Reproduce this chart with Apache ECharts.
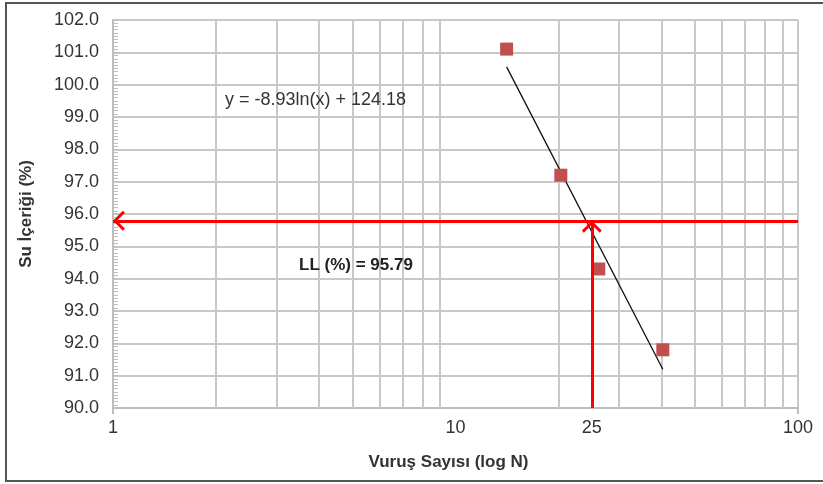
<!DOCTYPE html>
<html><head><meta charset="utf-8">
<script src="https://cdn.jsdelivr.net/npm/echarts@6/dist/echarts.min.js"></script>
<style>html,body{margin:0;padding:0;background:#fff}#c{width:823px;height:484px}</style>
</head><body><div id="c"></div>
<script>
const blowCounts = [14.1, 20.3, 26.2, 40.3];
const waterContent = [101.1, 97.2, 94.3, 91.8];
const trendX = [14.1, 40.3];
const trendY = [100.55, 91.2];
const llValue = 95.79;
const llBlows = 25;
const xLabels = [1, 10, 25, 100];
const xMinorGrid = [2, 3, 4, 5, 6, 7, 8, 9, 20, 30, 40, 50, 60, 70, 80, 90];
const equationText = 'y = -8.93ln(x) + 124.18';
const llText = 'LL (%) = 95.79';

const font = 'Liberation Sans, Arial, sans-serif';
const chevron = 'path://M0,0 L12,11 L9.5,13.5 L0,4.5 L-9.5,13.5 L-12,11 Z';
const chart = echarts.init(document.getElementById('c'));
chart.setOption({
  animation: false,
  grid: { left: 113, right: 25, top: 20, bottom: 76 },
  xAxis: {
    type: 'log', logBase: 10, min: 1, max: 100,
    name: 'Vuruş Sayısı (log N)', nameLocation: 'middle', nameGap: 46,
    nameTextStyle: { fontFamily: font, fontWeight: 'bold', fontSize: 17, color: '#333', padding: [0, 14, 0, 0] },
    axisLine: { lineStyle: { color: '#bdbdbd', width: 2 } },
    axisTick: { show: true, customValues: [1, 100], length: 6, lineStyle: { color: '#bdbdbd', width: 2 } },
    axisLabel: { customValues: xLabels, fontFamily: font, fontSize: 18, color: '#333', margin: 11,
      formatter: v => String(Math.round(v)) },
    splitLine: { show: true, lineStyle: { color: '#c8c8c8', width: 2 } }
  },
  yAxis: {
    type: 'value', min: 90, max: 102, interval: 1,
    name: 'Su İçeriği (%)', nameLocation: 'middle', nameGap: 78,
    nameTextStyle: { fontFamily: font, fontWeight: 'bold', fontSize: 17, color: '#333' },
    axisLine: { show: true, lineStyle: { color: '#bdbdbd', width: 2 } },
    axisTick: { show: true, inside: true, length: 5, lineStyle: { color: '#bdbdbd' } },
    minorTick: { show: true, splitNumber: 10, length: 5, lineStyle: { color: '#bdbdbd' } },
    axisLabel: { fontFamily: font, fontSize: 18, color: '#333', margin: 14,
      formatter: v => v.toFixed(1) },
    splitLine: { show: true, lineStyle: { color: '#c8c8c8', width: 2 } }
  },
  series: [
    {
      type: 'line', data: [], silent: true, z: 1,
      markLine: {
        silent: true, z: 1, symbol: ['none', 'none'], label: { show: false },
        lineStyle: { color: '#c8c8c8', width: 2, type: 'solid' },
        data: xMinorGrid.map(v => ({ xAxis: v }))
      }
    },
    {
      type: 'line', data: trendX.map((x, i) => [x, trendY[i]]),
      symbol: 'none', lineStyle: { color: '#111', width: 1.3 }, z: 3
    },
    {
      type: 'scatter', data: blowCounts.map((x, i) => [x, waterContent[i]]),
      symbol: 'rect', symbolSize: 13, itemStyle: { color: '#c0504d', opacity: 1 }, z: 4
    },
    {
      type: 'line', data: [], z: 6,
      markLine: {
        silent: true, z: 6, symbol: ['none', chevron], symbolSize: [20, 12], symbolOffset: [0, [0, 6]],
        label: { show: false },
        lineStyle: { color: '#ff0000', width: 3, type: 'solid' },
        data: [
          [{ coord: [100, llValue] }, { coord: [1, llValue] }],
          [{ coord: [llBlows, 90] }, { coord: [llBlows, llValue] }]
        ]
      }
    }
  ],
  graphic: [
    { type: 'rect', shape: { x: 6, y: 3, width: 840, height: 478 }, style: { fill: 'none', stroke: '#555', lineWidth: 2 }, silent: true },
    { type: 'text', left: 225, top: 91, style: { text: equationText, font: '18px ' + font, fill: '#333' }, z: 10 },
    { type: 'text', left: 299, top: 257, style: { text: llText, font: 'bold 17px ' + font, fill: '#222' }, z: 10 }
  ]
});
</script></body></html>
